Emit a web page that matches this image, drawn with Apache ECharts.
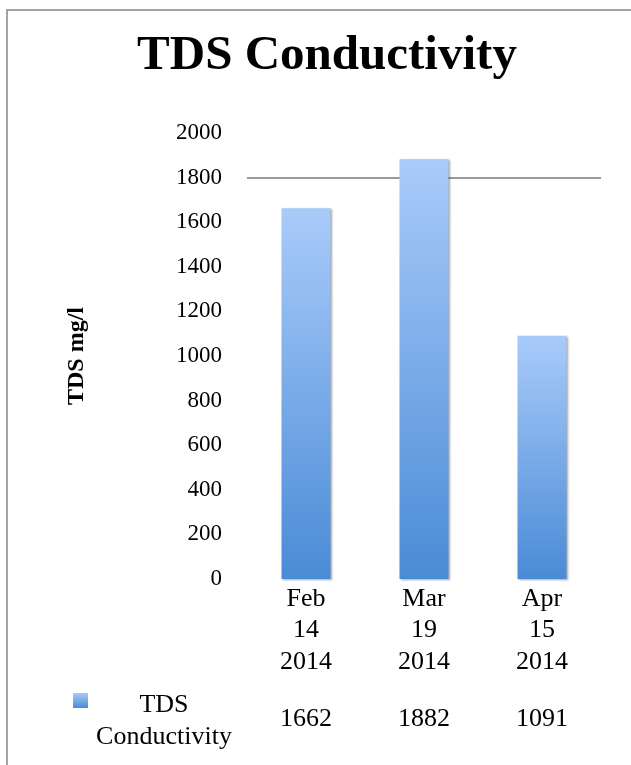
<!DOCTYPE html>
<html>
<head>
<meta charset="utf-8">
<script src="https://cdn.jsdelivr.net/npm/echarts@6/dist/echarts.min.js"></script>
<style>
html,body{margin:0;padding:0;background:#fff;}
#chart{width:631px;height:765px;}
</style>
</head>
<body>
<div id="chart"></div>
<script>
const chartTitle = 'TDS Conductivity';
const seriesName = 'TDS Conductivity';
const yAxisName = 'TDS mg/l';
const categories = ['Feb\n14\n2014', 'Mar\n19\n2014', 'Apr\n15\n2014'];
const values = [1662, 1882, 1091];
const yTicks = [0, 200, 400, 600, 800, 1000, 1200, 1400, 1600, 1800, 2000];

const serif = '"Liberation Serif", "DejaVu Serif", serif';
function blueGradient() {
  return new echarts.graphic.LinearGradient(0, 0, 0, 1, [
    {offset: 0, color: '#a9cbfa'},
    {offset: 1, color: '#4a8bd6'}
  ]);
}
// only the 1800 grid line is visible in the reference
const gridColors = yTicks.map(v => v === 1800 ? '#9a9a9a' : 'rgba(0,0,0,0)');

const chart = echarts.init(document.getElementById('chart'));
chart.setOption({
  animation: false,
  title: {
    text: chartTitle,
    left: 322, textAlign: 'center', top: 27,
    textStyle: {fontFamily: serif, fontWeight: 'bold', fontSize: 49, color: '#000'}
  },
  grid: {left: 247, right: 30, top: 133, bottom: 186},
  xAxis: {
    type: 'category',
    data: categories,
    axisLine: {show: false},
    axisTick: {show: false},
    axisLabel: {
      margin: 4,
      interval: 0,
      formatter: function (val, idx) {
        const parts = val.split('\n').map(p => '{d|' + p + '}');
        return parts.join('\n') + '\n{v|' + values[idx] + '}';
      },
      rich: {
        d: {fontFamily: serif, fontSize: 26, lineHeight: 31.5, color: '#000'},
        v: {fontFamily: serif, fontSize: 26, lineHeight: 84, color: '#000'}
      }
    }
  },
  yAxis: {
    type: 'value',
    min: 0, max: 2000, interval: 200,
    name: yAxisName,
    nameLocation: 'middle',
    nameRotate: 90,
    nameGap: 158,
    nameTextStyle: {fontFamily: serif, fontWeight: 'bold', fontSize: 24, color: '#000'},
    axisLine: {show: false},
    axisTick: {show: false},
    axisLabel: {
      margin: 25, fontFamily: serif, fontSize: 23, color: '#000',
      formatter: v => String(v)
    },
    splitLine: {show: true, lineStyle: {color: gridColors, width: 2}}
  },
  series: [{
    name: seriesName,
    type: 'bar',
    data: values,
    barWidth: 49,
    itemStyle: {
      color: blueGradient(),
      shadowColor: 'rgba(0,0,0,0.35)', shadowBlur: 2, shadowOffsetX: 1, shadowOffsetY: 1
    }
  }],
  graphic: [
    {
      type: 'polyline',
      shape: {points: [[7, 765], [7, 10], [631, 10]]},
      style: {stroke: '#a3a3a3', lineWidth: 2, fill: null},
      silent: true
    },
    {
      type: 'rect',
      shape: {x: 73, y: 693, width: 15, height: 15},
      style: {fill: blueGradient()}
    },
    {
      type: 'text',
      x: 164, y: 721,
      style: {
        text: seriesName.replace(' ', '\n'),
        fontFamily: serif, fontSize: 26, lineHeight: 32,
        align: 'center', verticalAlign: 'middle', fill: '#000'
      }
    }
  ]
});
</script>
</body>
</html>
